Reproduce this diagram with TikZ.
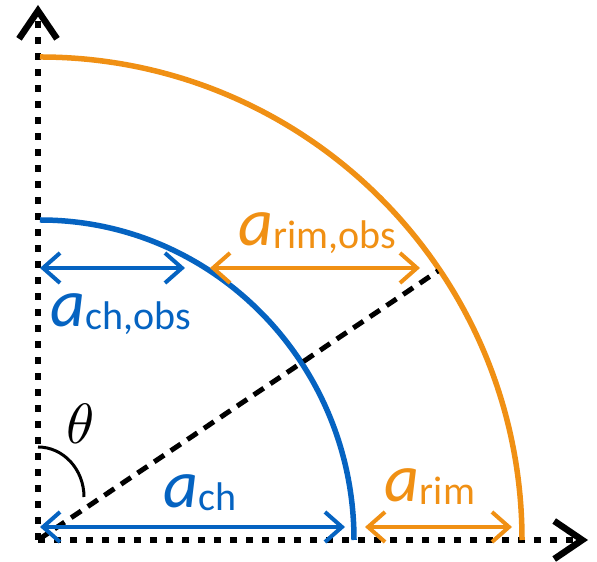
\documentclass[tikz,border=0pt]{standalone}
\usepackage{fontspec}
\setmainfont{Carlito}
\usepackage{graphicx}
\usepackage{tikz}
\usetikzlibrary{arrows.meta}

\definecolor{chblue}{RGB}{5,99,193}
\definecolor{rimorange}{RGB}{240,144,20}

\newcommand{\dimlab}[2]{{\fontsize{68bp}{68bp}\selectfont\itshape #1}{\fontsize{40bp}{40bp}\selectfont\raisebox{-3bp}{#2}}}

\begin{document}
\begin{tikzpicture}[x=1bp, y=1bp,
        axis/.style={line width=6.5bp, dash pattern=on 6.5bp off 9.5bp,
                     -{Straight Barb[length=28bp, width=38bp]}},
        rimline/.style={line width=5.5bp},
        dimarr/.style={line width=4bp,
                       {Straight Barb[length=17bp, width=30bp]}-{Straight Barb[length=17bp, width=30bp]}},
        lab/.style={inner sep=0pt, anchor=center}
    ]
        \useasboundingbox (-38,-22) rectangle (559,540);
        % axes
        \coordinate (O) at (0,0);
        \coordinate (ytip) at (0,535);
        \coordinate (xtip) at (550,0);
        \draw[axis] (O) -- (ytip);
        \draw[axis] (O) -- (xtip);
        % channel and rim
        \draw[rimline, chblue] (2,320) arc[start angle=90, end angle=0, x radius=314, y radius=320];
        \draw[rimline, rimorange] (2,483) arc[start angle=90, end angle=0, x radius=482, y radius=483];
        % observing direction
        \coordinate (rimpt) at (400,269);
        \draw[line width=5bp, dash pattern=on 12bp off 8bp] (O) -- (rimpt);
        \draw[line width=3bp] (0,93) arc[start angle=90, end angle=0, x radius=46, y radius=50];
        \node[lab] (theta) at (43,116) {\scalebox{5.7}{$\theta$}};
        % widths
        \coordinate (cho1) at (2,272);   \coordinate (cho2) at (147,272);
        \coordinate (rimo1) at (172,272); \coordinate (rimo2) at (382,272);
        \coordinate (ch1) at (2,13);     \coordinate (ch2) at (307,13);
        \coordinate (rim1) at (327,13);  \coordinate (rim2) at (474,13);
        \draw[dimarr, chblue] (cho1) -- (cho2);
        \draw[dimarr, rimorange] (rimo1) -- (rimo2);
        \draw[dimarr, chblue] (ch1) -- (ch2);
        \draw[dimarr, rimorange] (rim1) -- (rim2);
        \node[lab, chblue] (lchobs) at (83,226) {\dimlab{a}{ch,obs}};
        \node[lab, rimorange] (lrimobs) at (279,307) {\dimlab{a}{rim,obs}};
        \node[lab, chblue] (lch) at (162,47) {\dimlab{a}{ch}};
        \node[lab, rimorange] (lrim) at (392,53) {\dimlab{a}{rim}};
    \end{tikzpicture}
\end{document}
